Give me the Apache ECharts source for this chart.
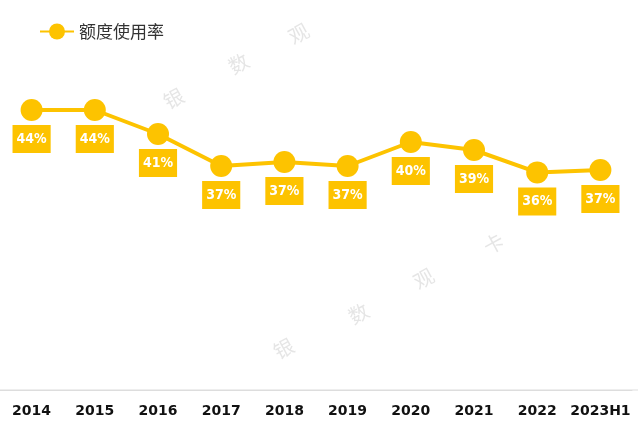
<!DOCTYPE html>
<html><head><meta charset="utf-8">
<script src="https://cdn.jsdelivr.net/npm/echarts@6/dist/echarts.min.js"></script>
<style>html,body{margin:0;padding:0;background:#fff}#c{width:638px;height:434px}</style>
</head><body><div id="c"></div>
<script>
const categories = ['2014','2015','2016','2017','2018','2019','2020','2021','2022','2023H1'];
const usageRate = [44, 44, 41, 37, 37.5, 37, 40, 39, 36.2, 36.5];
const labelsText = ['44%','44%','41%','37%','37%','37%','40%','39%','36%','37%'];
const seriesName = '额度使用率';
const chart = echarts.init(document.getElementById('c'));
const wm = {fill:'rgba(180,180,180,0.35)', font:'20px "Noto Sans CJK SC"'};
chart.setOption({
  animation:false,
  legend:{left:34, top:18, itemWidth:34, itemHeight:20, itemGap:10, textStyle:{fontSize:17, color:'#333', fontFamily:'Noto Sans CJK SC'}, data:[seriesName]},
  grid:{left:-2, right:6, top:62, bottom:44},
  xAxis:{type:'category', data:categories, boundaryGap:true,
    axisLine:{lineStyle:{color:'#ddd'}}, axisTick:{show:false},
    axisLabel:{interval:0, color:'#111', fontWeight:'bold', fontSize:14, margin:14, fontFamily:'DejaVu Sans'}},
  yAxis:{type:'value', min:9, max:50, show:false, splitLine:{show:false}},
  graphic:[
    {type:'line', shape:{x1:0,y1:390,x2:638,y2:390}, style:{stroke:'#ddd'}},
    {type:'text', left:160, top:85, rotation:0.5, style:Object.assign({text:'银'},wm)},
    {type:'text', left:225, top:50, rotation:0.5, style:Object.assign({text:'数'},wm)},
    {type:'text', left:285, top:20, rotation:0.5, style:Object.assign({text:'观'},wm)},
    {type:'text', left:270, top:335, rotation:0.5, style:Object.assign({text:'银'},wm)},
    {type:'text', left:345, top:300, rotation:0.5, style:Object.assign({text:'数'},wm)},
    {type:'text', left:410, top:265, rotation:0.5, style:Object.assign({text:'观'},wm)},
    {type:'text', left:480, top:230, rotation:0.5, style:Object.assign({text:'卡'},wm)}
  ],
  series:[{
    name:seriesName, type:'line', data:usageRate,
    symbol:'circle', symbolSize:22,
    itemStyle:{color:'#FDC300'}, lineStyle:{color:'#FDC300', width:4},
    label:{show:true, position:'bottom', distance:4,
      formatter:p=>labelsText[p.dataIndex],
      backgroundColor:'#FDC300', color:'#fff', fontWeight:'bold', fontSize:14,
      fontFamily:'DejaVu Sans Condensed', padding:[7,4,7,4]}
  }]
});
</script></body></html>
